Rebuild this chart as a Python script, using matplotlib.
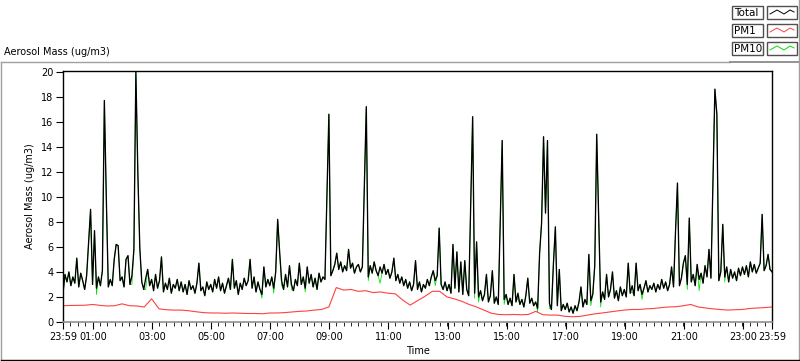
import matplotlib
matplotlib.use("Agg")
import matplotlib.pyplot as plt
import matplotlib.patches as mpatches
import matplotlib.lines as mline
import numpy as np

# Total mass, one reading every 4 minutes starting at 23:59 (one row per hour)
total = [
    2.3, 3.8, 3.2, 4.0, 2.9, 3.6, 3.1, 5.1, 2.8, 3.9, 3.3, 2.6, 3.7, 6.4, 9.0,
    3.0, 7.3, 2.7, 3.6, 2.9, 4.1, 17.7, 9.8, 2.8, 3.4, 2.9, 5.0, 6.2, 6.1, 3.3,
    3.6, 2.8, 5.0, 5.3, 3.0, 3.7, 5.8, 20.0, 11.9, 5.9, 3.2, 2.6, 3.5, 4.2, 2.9,
    3.4, 2.5, 3.8, 2.7, 3.3, 5.2, 2.4, 3.1, 2.6, 3.5, 2.3, 3.0, 2.7, 3.4, 2.5,
    3.2, 2.4, 3.0, 2.2, 3.3, 2.6, 2.9, 2.3, 3.1, 4.7, 2.5, 2.8, 2.1, 3.2, 2.6,
    3.0, 2.4, 3.4, 2.7, 3.6, 2.5, 3.1, 2.3, 2.9, 3.5, 2.6, 5.0, 2.7, 3.3, 2.2,
    3.1, 2.6, 3.5, 2.9, 3.3, 5.0, 2.7, 3.6, 2.4, 3.2, 2.6, 2.2, 4.4, 2.8, 3.4,
    2.9, 3.6, 2.7, 4.0, 8.2, 5.6, 3.3, 2.6, 3.8, 2.8, 4.5, 3.0, 2.5, 3.4, 2.9,
    4.7, 3.0, 3.6, 2.7, 4.4, 3.1, 3.8, 2.8, 3.5, 2.6, 3.9, 3.2, 3.6, 3.4, 10.1,
    16.6, 3.7, 4.1, 4.6, 5.5, 4.2, 4.8, 4.0, 4.5, 4.1, 5.8, 4.3, 4.7, 3.9, 4.4,
    4.6, 4.0, 4.4, 10.7, 17.2, 3.6, 4.5, 3.9, 4.8, 4.1, 3.7, 4.4, 3.9, 4.6, 3.8,
    4.2, 3.5, 4.0, 5.1, 3.3, 3.8, 3.1, 3.6, 2.9, 3.4, 2.7, 3.2, 2.5, 3.0, 4.9,
    2.6, 3.2, 2.4, 3.0, 2.7, 3.4, 2.9, 3.6, 4.1, 3.3, 3.7, 7.5, 3.0, 2.6, 3.2,
    2.5, 3.0, 2.3, 6.2, 2.7, 5.6, 2.4, 4.8, 2.2, 4.9, 2.6, 2.1, 9.3, 16.4, 2.3,
    6.4, 2.0, 2.5, 1.7, 2.2, 3.8, 1.6, 2.1, 4.1, 1.5, 2.0, 1.4, 8.1, 14.5, 1.8,
    2.2, 1.4, 1.9, 1.3, 3.8, 1.6, 2.3, 1.4, 1.8, 1.2, 2.1, 3.5, 1.5, 1.9, 1.3,
    1.6, 1.1, 5.5, 7.9, 14.8, 8.7, 14.5, 1.5, 1.0, 4.6, 7.6, 1.3, 4.2, 0.9, 1.4,
    1.0, 1.5, 0.8, 1.2, 0.7, 1.3, 0.9, 1.6, 2.8, 1.2, 1.8, 1.4, 5.4, 1.7, 2.2,
    4.5, 15.0, 8.4, 1.6, 2.4, 1.8, 3.8, 2.0, 2.6, 4.0, 1.9, 2.5, 1.7, 2.8, 2.1,
    2.6, 2.0, 4.7, 2.3, 2.9, 2.1, 4.7, 2.5, 3.0, 2.2, 2.7, 3.3, 2.4, 2.9, 2.6,
    3.1, 2.4, 3.0, 2.6, 3.4, 2.7, 3.2, 2.5, 3.0, 4.4, 2.8, 7.2, 11.1, 2.9, 3.5,
    4.7, 5.3, 3.0, 8.3, 3.2, 3.8, 2.9, 4.6, 3.4, 3.9, 3.1, 4.5, 3.6, 5.8, 3.5,
    11.2, 18.6, 16.6, 3.3, 4.0, 7.8, 3.6, 4.4, 3.2, 4.2, 3.5, 4.0, 3.3, 4.3, 3.7,
    4.4, 3.8, 4.5, 3.6, 4.8, 4.0, 4.6, 3.9, 4.3, 4.7, 8.6, 4.1, 4.5, 5.4, 4.2,
    4.0,
]

# PM10 follows Total except where the green trace shows below it
pm10_idx = [17, 35, 42, 101, 107, 111, 116, 123, 155, 161, 189, 209, 211,
            224, 231, 241, 247, 268, 273, 289, 294, 317, 323, 336]
pm10_val = [2.2, 3.0, 2.6, 1.9, 2.3, 2.9, 2.6, 2.4, 3.3, 3.1, 2.9, 1.9, 1.6,
            1.4, 1.9, 0.8, 1.1, 1.3, 1.2, 2.4, 1.8, 2.6, 2.5, 3.2]

# PM1, one reading every 15 minutes
pm1 = [
    1.30, 1.32, 1.33, 1.34, 1.40, 1.33, 1.28, 1.30, 1.45, 1.30, 1.28, 1.20,
    1.85, 1.05, 0.98, 0.95, 0.95, 0.90, 0.82, 0.75, 0.72, 0.72, 0.70, 0.72,
    0.70, 0.68, 0.68, 0.66, 0.72, 0.72, 0.75, 0.80, 0.85, 0.88, 0.95, 1.00,
    1.20, 2.75, 2.55, 2.60, 2.45, 2.50, 2.35, 2.40, 2.30, 2.25, 1.75, 1.35,
    1.70, 2.05, 2.45, 2.45, 2.00, 1.85, 1.65, 1.40, 1.20, 0.95, 0.70, 0.60,
    0.58, 0.60, 0.58, 0.60, 0.85, 0.58, 0.55, 0.55, 0.45, 0.42, 0.45, 0.55,
    0.65, 0.72, 0.80, 0.88, 0.95, 1.00, 1.00, 1.05, 1.08, 1.15, 1.20, 1.22,
    1.30, 1.40, 1.20, 1.12, 1.05, 1.00, 0.95, 0.98, 1.00, 1.08, 1.12, 1.15,
    1.20,
]

tick_labels = ["23:59", "01:00", "03:00", "05:00", "07:00", "09:00", "11:00", "13:00",
               "15:00", "17:00", "19:00", "21:00", "23:00", "23:59"]
tick_minutes = [0, 61, 181, 301, 421, 541, 661, 781, 901, 1021, 1141, 1261, 1381, 1440]
legend_names = ["Total", "PM1", "PM10"]
legend_colors = ["black", "#ff4040", "#00e000"]

FS = 7
plt.rcParams['font.family'] = ['DejaVu Sans']

W, H = 800, 361
fig = plt.figure(figsize=(W / 100, H / 100), dpi=100)

def fx(px):
    return px / W

def fy(py):
    return 1 - py / H

# panel frame
fig.add_artist(mline.Line2D([fx(1), fx(1)], [fy(62), fy(360)], color="#a0a0a0", lw=1))
fig.add_artist(mline.Line2D([fx(1), fx(730)], [fy(62), fy(62)], color="#a0a0a0", lw=1))
fig.add_artist(mline.Line2D([fx(730), fx(799)], [fy(62), fy(62)], color="#808080", lw=1.2))
fig.add_artist(mline.Line2D([fx(799), fx(799)], [fy(0), fy(360)], color="#a0a0a0", lw=1))
fig.add_artist(mline.Line2D([fx(1), fx(799)], [fy(360), fy(360)], color="black", lw=1))

fig.text(fx(4), fy(52), "Aerosol Mass (ug/m3)", fontsize=FS, va="center", ha="left")

ax = fig.add_axes([fx(63), fy(322), fx(772) - fx(63), fy(71) - fy(322)])

t_total = np.arange(len(total)) * 4
pm10 = np.array(total, dtype=float)
pm10[pm10_idx] = pm10_val
t_pm1 = np.arange(len(pm1)) * 15

ax.plot(t_total, pm10, color=legend_colors[2], lw=0.55)
ax.plot(t_pm1, pm1, color=legend_colors[1], lw=0.8)
ax.plot(t_total, total, color=legend_colors[0], lw=0.95)

ax.set_xlim(0, 1440)
ax.set_ylim(0, 20.05)
ax.set_yticks(np.arange(0, 21, 2))
ax.set_xticks(tick_minutes)
ax.set_xticklabels(tick_labels)
ax.set_xticks(np.arange(0, 1441, 15), minor=True)
ax.tick_params(axis="both", labelsize=FS, direction="out", width=0.8, colors="black")
ax.tick_params(axis="y", length=5, pad=2)
ax.tick_params(axis="x", which="major", length=5, pad=2)
ax.tick_params(axis="x", which="minor", length=3)

ax.set_ylabel("Aerosol Mass (ug/m3)", fontsize=FS, labelpad=4)
ax.set_xlabel("Time", fontsize=FS, labelpad=3)

for side in ["left", "top", "right"]:
    ax.spines[side].set_color("black")
    ax.spines[side].set_linewidth(1)
ax.spines["bottom"].set_color("#909090")
ax.spines["bottom"].set_linewidth(1.2)

# legend boxes at the top right
rows = [6, 24, 42]
for name, col, top in zip(legend_names, legend_colors, rows):
    fig.add_artist(mpatches.Rectangle((fx(732), fy(top + 13)), fx(31), fy(top) - fy(top + 13),
                                      facecolor="white", edgecolor="#505050", lw=1))
    fig.text(fx(734), fy(top + 6.5), name, fontsize=FS + 0.5, va="center", ha="left")
    fig.add_artist(mpatches.Rectangle((fx(767), fy(top + 13)), fx(30), fy(top) - fy(top + 13),
                                      facecolor="white", edgecolor="#505050", lw=1))
    zx = [770, 777, 784, 790, 794]
    zy = [top + 8, top + 4, top + 8, top + 4, top + 6]
    fig.add_artist(mline.Line2D([fx(v) for v in zx], [fy(v) for v in zy], color=col, lw=0.7))

fig.savefig("out.png", dpi=100)
